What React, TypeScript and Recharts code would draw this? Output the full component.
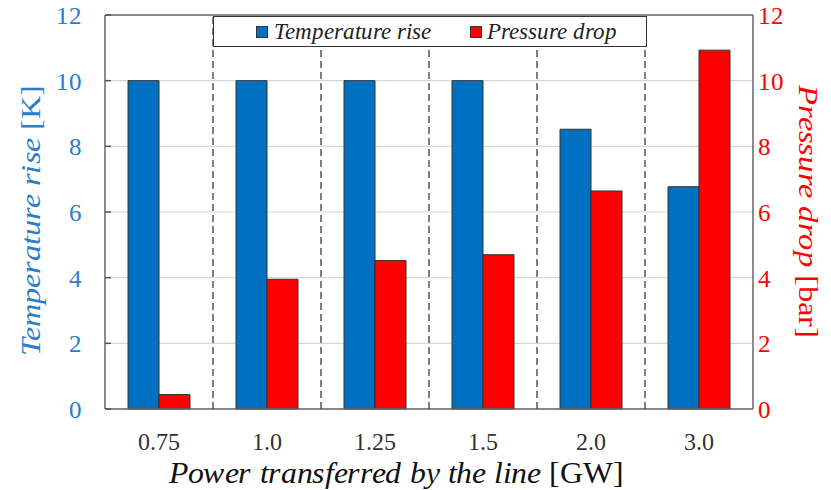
import React from 'react';
import { BarChart, Bar, XAxis, YAxis, CartesianGrid, ReferenceLine, Legend, Label } from 'recharts';

const categories = ['0.75', '1.0', '1.25', '1.5', '2.0', '3.0'];
const temperatureRise = [10, 10, 10, 10, 8.52, 6.77];
const pressureDrop = [0.44, 3.95, 4.52, 4.7, 6.64, 10.93];
const yTicks = [0, 2, 4, 6, 8, 10, 12];
const separators = [1, 2, 3, 4, 5];

const data = categories.map((c, i) => ({ cat: c, temp: temperatureRise[i], pres: pressureDrop[i], pos: i + 0.5 }));

const FONT = 'LSerif, Liberation Serif, serif';
const BLUE = '#0070C0';
const RED = '#FF0000';
const BLUE_TEXT = '#2B7CCB';

const fontCss = `
@font-face { font-family: 'LSerif'; font-style: normal; font-weight: 400; src: local('Liberation Serif'), local('LiberationSerif'); }
@font-face { font-family: 'LSerif'; font-style: italic; font-weight: 400; src: local('Liberation Serif Italic'), local('LiberationSerif-Italic'), local('Liberation Serif'); }
`;

const LegendBox = () => (
  <div
    style={{
      width: 434,
      height: 31,
      boxSizing: 'border-box',
      border: '1.5px solid #333',
      background: '#fff',
      display: 'flex',
      alignItems: 'center',
      fontFamily: FONT,
      fontStyle: 'italic',
      fontSize: 23,
      color: '#222',
      whiteSpace: 'nowrap',
    }}
  >
    <span style={{ display: 'inline-block', width: 12, height: 12, background: BLUE, border: '1px solid #333', boxSizing: 'border-box', marginLeft: 42, marginRight: 6 }} />
    <span>Temperature rise</span>
    <span style={{ display: 'inline-block', width: 12, height: 12, background: RED, border: '1px solid #333', boxSizing: 'border-box', marginLeft: 39, marginRight: 5 }} />
    <span>Pressure drop</span>
  </div>
);

export default function App() {
  return (
    <div style={{ position: 'absolute', left: 0, top: 0, background: '#fff' }}>
      <style>{fontCss}</style>
      <BarChart
        width={831}
        height={490}
        data={data}
        margin={{ top: 15, right: 0, bottom: 0, left: 0 }}
        barGap={0}
        barSize={31}
      >
        <CartesianGrid vertical={false} yAxisId="left" stroke="#d6d6d6" strokeWidth={1.2} />
        <XAxis
          dataKey="cat"
          height={81}
          interval={0}
          tickLine={false}
          tickSize={6}
          tickMargin={18}
          axisLine={{ stroke: '#666', strokeWidth: 1.5 }}
          tick={{ fill: '#333', fontSize: 24, fontFamily: FONT }}
        >
          <Label
            content={(props: any) => {
              const vb = props.viewBox;
              return (
                <text
                  x={vb.x + vb.width / 2 - 33}
                  y={vb.y + 74}
                  textAnchor="middle"
                  fontFamily={FONT}
                  fontSize={30}
                  textLength={455}
                  lengthAdjust="spacingAndGlyphs"
                  fill="#111"
                >
                  <tspan fontStyle="italic">Power transferred by the line</tspan>
                  <tspan> [GW]</tspan>
                </text>
              );
            }}
          />
        </XAxis>
        <XAxis
          xAxisId="sep"
          dataKey="pos"
          type="number"
          domain={[0, 6]}
          allowDataOverflow
          hide
        />
        <YAxis
          yAxisId="left"
          orientation="left"
          width={105}
          domain={[0, 12]}
          ticks={yTicks}
          interval={0}
          tickSize={-6}
          tickMargin={29}
          tickLine={{ stroke: '#555', strokeWidth: 1.5 }}
          axisLine={{ stroke: '#666', strokeWidth: 1.5 }}
          tick={{ fill: BLUE_TEXT, fontSize: 25, fontFamily: FONT }}
        >
          <Label
            content={() => (
              <text
                x={40}
                y={221}
                transform="rotate(-90 40 221)"
                textAnchor="middle"
                fontFamily={FONT}
                fontSize={28}
                textLength={270}
                lengthAdjust="spacingAndGlyphs"
                fill={BLUE_TEXT}
              >
                <tspan fontStyle="italic">Temperature rise</tspan>
                <tspan> [K]</tspan>
              </text>
            )}
          />
        </YAxis>
        <YAxis
          yAxisId="right"
          orientation="right"
          width={78}
          domain={[0, 12]}
          ticks={yTicks}
          interval={0}
          tickLine={false}
          tickSize={0}
          tickMargin={5}
          axisLine={{ stroke: '#666', strokeWidth: 1.5 }}
          tick={{ fill: RED, fontSize: 25, fontFamily: FONT }}
        >
          <Label
            content={() => (
              <text
                x={799}
                y={211}
                transform="rotate(90 799 211)"
                textAnchor="middle"
                fontFamily={FONT}
                fontSize={28}
                textLength={252}
                lengthAdjust="spacingAndGlyphs"
                fill={RED}
              >
                <tspan fontStyle="italic">Pressure drop</tspan>
                <tspan> [bar]</tspan>
              </text>
            )}
          />
        </YAxis>
        {separators.map((s) => (
          <ReferenceLine
            key={s}
            x={s}
            xAxisId="sep"
            yAxisId="left"
            stroke="#555"
            strokeWidth={1.5}
            strokeDasharray="7 4"
          />
        ))}
        <ReferenceLine y={12} yAxisId="left" stroke="#666" strokeWidth={1.5} />
        <Bar dataKey="temp" yAxisId="left" fill={BLUE} stroke="#333" strokeWidth={1} isAnimationActive={false} />
        <Bar dataKey="pres" yAxisId="right" fill={RED} stroke="#333" strokeWidth={1} isAnimationActive={false} />
        <Legend
          layout="vertical"
          align="center"
          verticalAlign="middle"
          wrapperStyle={{ position: 'absolute', top: 16, left: 213, width: 434, height: 31 }}
          content={() => <LegendBox />}
        />
      </BarChart>
    </div>
  );
}
